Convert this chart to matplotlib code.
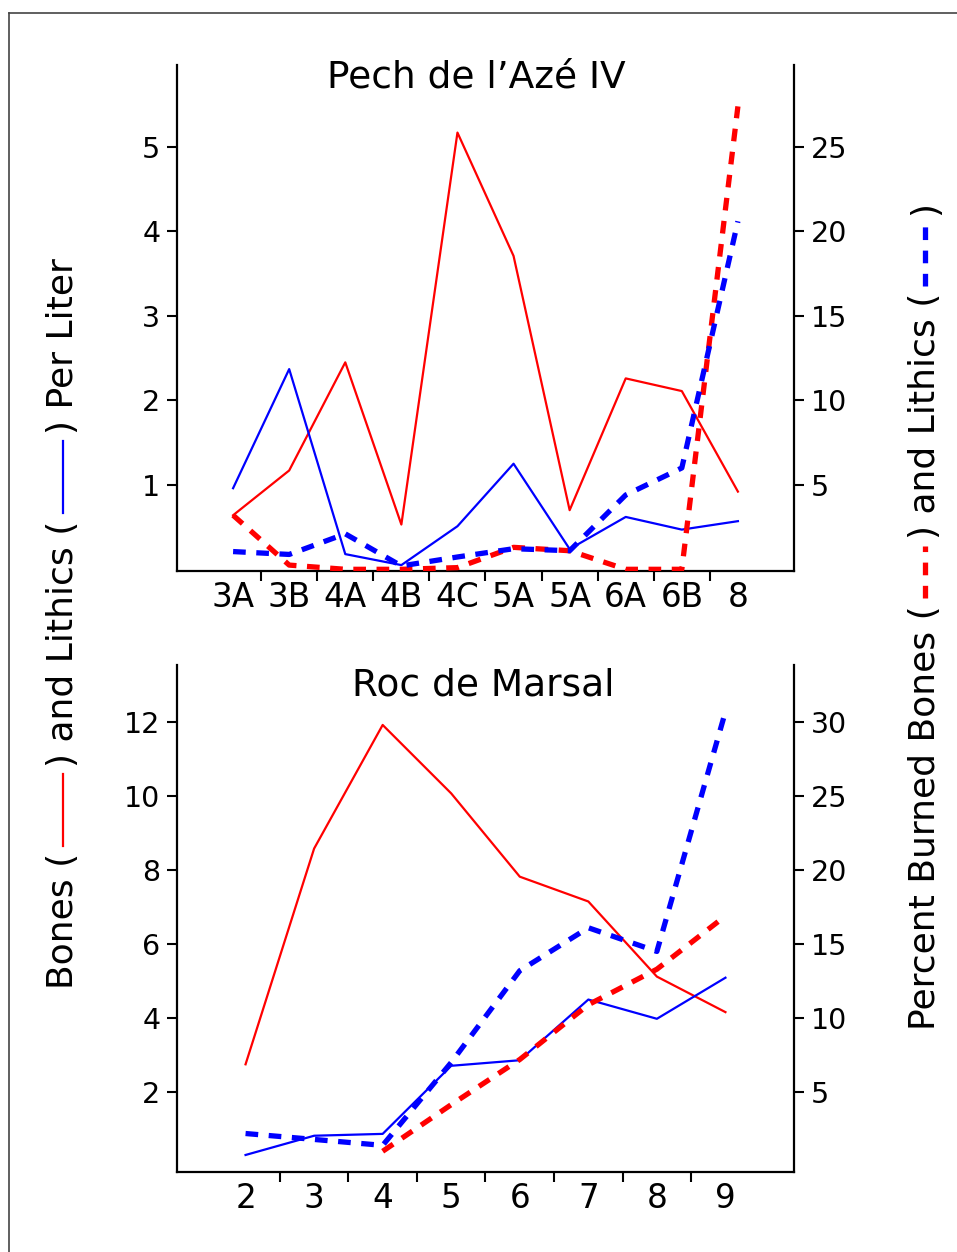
import numpy as np
import matplotlib
matplotlib.use("Agg")
import matplotlib.pyplot as plt
from matplotlib.lines import Line2D

# Pech de l'Aze IV (per liter, left axis; percent burned, right axis)
pech_layers = ["3A", "3B", "4A", "4B", "4C", "5A", "5A", "6A", "6B", "8"]
pech_bones = [0.64, 1.17, 2.45, 0.53, 5.17, 3.71, 0.70, 2.26, 2.11, 0.92]
pech_lithics = [0.96, 2.37, 0.18, 0.05, 0.51, 1.25, 0.24, 0.62, 0.47, 0.57]
pech_burned_bones = [3.2, 0.25, 0.0, 0.0, 0.1, 1.3, 1.1, 0.0, 0.0, 27.4]
pech_burned_lithics = [1.05, 0.88, 2.1, 0.2, 0.73, 1.22, 1.1, 4.4, 6.0, 20.6]

# Roc de Marsal
roc_layers = ["2", "3", "4", "5", "6", "7", "8", "9"]
roc_bones = [2.75, 8.58, 11.92, 10.07, 7.82, 7.15, 5.12, 4.16]
roc_lithics = [0.30, 0.82, 0.87, 2.71, 2.86, 4.50, 3.98, 5.09]
roc_burned_bones = [np.nan, np.nan, 1.0, 4.15, 7.2, 10.9, 13.3, 16.9]
roc_burned_lithics = [2.2, 1.8, 1.4, 7.0, 13.2, 16.1, 14.5, 30.7]

W, H = 957, 1252
RED = "#ff0000"
BLUE = "#0000ff"
DASH = (0, (2.4, 2.0))

plt.rcParams["font.family"] = "DejaVu Sans"
fig = plt.figure(figsize=(W / 100, H / 100), dpi=100)


def px(x0, y0, x1, y1):
    # pixel box (from top-left) -> figure fraction rect
    return [x0 / W, 1 - y1 / H, (x1 - x0) / W, (y1 - y0) / H]


def panel(rect, title, title_xy, layers, bones, lithics, burned_b, burned_l,
          ylim, yticks, scale, rticks):
    ax = fig.add_axes(rect)
    ax2 = ax.twinx()
    x = np.arange(len(layers))
    ax.plot(x, bones, color=RED, lw=1.6)
    ax.plot(x, lithics, color=BLUE, lw=1.6)
    ax2.plot(x, burned_b, color=RED, lw=3.8, ls=DASH)
    ax2.plot(x, burned_l, color=BLUE, lw=3.8, ls=DASH)

    ax.set_xlim(-1, len(layers))
    ax.set_ylim(*ylim)
    ax2.set_ylim(ylim[0] * scale, ylim[1] * scale)

    ax.set_xticks(x[:-1] + 0.5)
    ax.set_xticklabels([])
    ax.set_xticks(x, minor=True)
    ax.set_xticklabels(layers, minor=True)
    ax.tick_params(axis="x", which="major", direction="out", length=7, width=1.5)
    ax.tick_params(axis="x", which="minor", length=0, labelsize=23.5, pad=7)

    ax.set_yticks(yticks)
    ax.set_yticklabels([str(v) for v in yticks])
    ax.tick_params(axis="y", direction="out", length=7, width=1.5, labelsize=20.5, pad=5)
    ax2.set_yticks(rticks)
    ax2.set_yticklabels([str(v) for v in rticks])
    ax2.tick_params(axis="y", direction="out", length=7, width=1.5, labelsize=20.5, pad=5)

    for a in (ax, ax2):
        a.spines["top"].set_visible(False)
        for s in a.spines.values():
            s.set_linewidth(1.6)
    ax.spines["right"].set_visible(False)
    ax2.spines["left"].set_visible(False)
    ax2.spines["bottom"].set_visible(False)

    ax.text(title_xy[0], title_xy[1], title, transform=ax.transAxes,
            ha="center", va="center", fontsize=27)
    return ax, ax2


panel(px(177, 65, 794, 571), "Pech de l\u2019Az\u00e9 IV", (0.485, 0.976),
      pech_layers, pech_bones, pech_lithics, pech_burned_bones, pech_burned_lithics,
      (-0.02, 5.97), [1, 2, 3, 4, 5], 5, [5, 10, 15, 20, 25])
panel(px(177, 665, 794, 1172), "Roc de Marsal", (0.497, 0.959),
      roc_layers, roc_bones, roc_lithics, roc_burned_bones, roc_burned_lithics,
      (-0.16, 13.54), [2, 4, 6, 8, 10, 12], 2.5, [5, 10, 15, 20, 25, 30])


def stacked_label(x, y_bottom_px, parts, size):
    # parts drawn bottom to top; strings are text, tuples are legend lines
    renderer = fig.canvas.get_renderer()
    y = H - y_bottom_px
    gap = 7
    for part in parts:
        if isinstance(part, str):
            t = fig.text(x / W, y / H, part, rotation=90, ha="center", va="bottom",
                         fontsize=size)
            bb = t.get_window_extent(renderer)
            y = bb.y1 + gap
        else:
            color, ls, length = part
            fig.add_artist(Line2D([x / W, x / W], [y / H, (y + length) / H],
                                  color=color, ls=ls,
                                  lw=1.6 if ls == "-" else 3.8))
            y += length + gap


stacked_label(63, 989, ["Bones (", (RED, "-", 72), ") and Lithics (",
                        (BLUE, "-", 72), ") Per Liter"], 26)
stacked_label(925, 1030, ["Percent Burned Bones (", (RED, DASH, 52),
                          ") and Lithics (", (BLUE, DASH, 64), ")"], 26)

# thin frame on top and left edge
fig.add_artist(Line2D([9 / W, 1], [1 - 13 / H, 1 - 13 / H], color="#444444", lw=1.2))
fig.add_artist(Line2D([9 / W, 9 / W], [0, 1 - 13 / H], color="#444444", lw=1.2))

fig.savefig("out.png", dpi=100)
